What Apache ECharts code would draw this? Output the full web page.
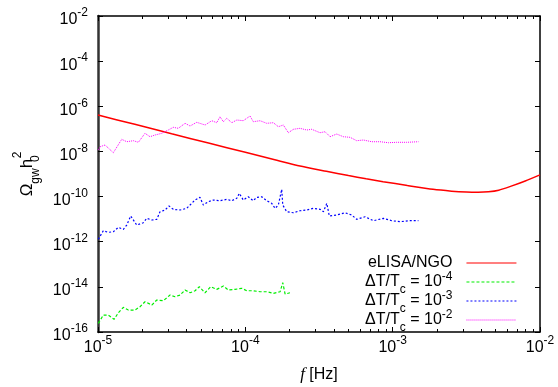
<!DOCTYPE html>
<html><head><meta charset="utf-8">
<script src="https://cdn.jsdelivr.net/npm/echarts@6/dist/echarts.min.js"></script>
<style>html,body{margin:0;padding:0;background:#fff}#c{width:558px;height:387px}</style>
</head><body><div id="c"></div>
<script>
// Tick labels (powers of ten)
const xMajorTicks = [1e-5, 1e-4, 1e-3, 1e-2];
const yMajorTicks = [1e-16, 1e-14, 1e-12, 1e-10, 1e-8, 1e-6, 1e-4, 1e-2];
const seriesNames = ['eLISA/NGO', 'ΔT/Tc = 10^-4', 'ΔT/Tc = 10^-3', 'ΔT/Tc = 10^-2'];

// Values, stored as log10(f [Hz]) and log10(Omega h^2)
const elisaLogF = [-5.0,-4.75,-4.5,-4.25,-4.0,-3.8,-3.629,-3.45,-3.3,-3.18,-3.065,-2.9,-2.726,-2.6,-2.5,-2.42,-2.35,-2.28,-2.2,-2.1,-2.0];
const elisaLogOmega = [-6.39,-6.80,-7.22,-7.63,-8.04,-8.37,-8.65,-8.88,-9.07,-9.21,-9.34,-9.51,-9.68,-9.76,-9.80,-9.81,-9.79,-9.72,-9.55,-9.31,-9.04];

const dT4LogF = [-4.998,-4.964,-4.930,-4.891,-4.862,-4.828,-4.794,-4.749,-4.715,-4.681,-4.635,-4.601,-4.557,-4.511,-4.477,-4.443,-4.409,-4.375,-4.341,-4.312,-4.274,-4.235,-4.194,-4.149,-4.115,-4.070,-4.024,-3.990,-3.946,-3.900,-3.855,-3.810,-3.764,-3.746,-3.730,-3.697];
const dT4LogOmega = [-15.617,-15.249,-15.249,-15.439,-15.147,-14.908,-15.027,-15.027,-14.881,-14.659,-14.806,-14.584,-14.615,-14.362,-14.438,-14.362,-14.141,-14.261,-14.172,-13.995,-14.261,-13.995,-14.110,-13.964,-14.141,-14.110,-14.066,-14.172,-14.172,-14.216,-14.216,-14.287,-14.216,-13.817,-14.318,-14.261];

const dT3LogF = [-4.998,-4.964,-4.930,-4.896,-4.862,-4.828,-4.805,-4.778,-4.737,-4.692,-4.669,-4.635,-4.601,-4.579,-4.545,-4.518,-4.489,-4.443,-4.398,-4.364,-4.341,-4.308,-4.285,-4.251,-4.217,-4.172,-4.126,-4.092,-4.058,-4.041,-4.014,-3.980,-3.946,-3.923,-3.889,-3.855,-3.821,-3.798,-3.776,-3.753,-3.746,-3.719,-3.674,-3.629,-3.583,-3.538,-3.493,-3.470,-3.447,-3.430,-3.380,-3.323,-3.278,-3.244,-3.187,-3.131,-3.063,-3.006,-2.950,-2.893,-2.825];
const dT3LogOmega = [-11.894,-11.513,-11.584,-11.558,-11.363,-11.451,-11.261,-10.862,-11.261,-11.159,-10.964,-11.039,-11.008,-10.671,-10.596,-10.419,-10.565,-10.596,-10.521,-10.299,-10.153,-10.033,-10.375,-10.228,-10.153,-10.184,-10.122,-10.184,-10.078,-9.856,-10.153,-10.007,-10.184,-10.033,-10.007,-10.184,-10.299,-10.521,-10.375,-9.679,-10.375,-10.671,-10.716,-10.627,-10.596,-10.521,-10.565,-10.671,-10.299,-10.862,-10.818,-10.716,-10.818,-11.008,-10.893,-11.070,-10.964,-11.070,-11.115,-11.070,-11.070];

const dT2LogF = [-4.998,-4.986,-4.952,-4.896,-4.839,-4.805,-4.760,-4.726,-4.681,-4.647,-4.613,-4.568,-4.523,-4.489,-4.455,-4.409,-4.375,-4.330,-4.273,-4.228,-4.194,-4.172,-4.149,-4.126,-4.092,-4.058,-4.014,-3.968,-3.946,-3.900,-3.855,-3.810,-3.776,-3.742,-3.708,-3.674,-3.629,-3.583,-3.549,-3.493,-3.459,-3.425,-3.380,-3.335,-3.289,-3.244,-3.199,-3.142,-3.086,-3.029,-2.972,-2.904,-2.825];
const dT2LogOmega = [-7.94,-7.791,-7.716,-8.057,-7.463,-7.570,-7.525,-7.596,-7.198,-7.348,-7.273,-7.198,-7.051,-6.932,-6.976,-6.754,-6.874,-6.710,-6.830,-6.639,-6.728,-6.462,-6.684,-6.533,-6.728,-6.608,-6.639,-6.431,-6.684,-6.639,-6.754,-6.728,-6.905,-6.830,-7.171,-7.020,-6.976,-7.051,-7.020,-7.171,-7.127,-7.348,-7.229,-7.348,-7.375,-7.525,-7.494,-7.570,-7.570,-7.614,-7.596,-7.596,-7.570];

function toPairs(lf, lo) { return lf.map((v, i) => [Math.pow(10, v), Math.pow(10, lo[i])]); }

const FONT = '"Liberation Sans", Helvetica, Arial, sans-serif';
const minorXTicks = [];
for (const dec of [1e-5, 1e-4, 1e-3]) for (let k = 2; k <= 9; k++) minorXTicks.push(k * dec);

const tickRich = {
  b: { fontFamily: FONT, fontSize: 16, lineHeight: 16, color: '#000', padding: [8, 0, 0, 0] },
  s: { fontFamily: FONT, fontSize: 12, lineHeight: 12, color: '#000', padding: [3, 0, 9, 0] }
};
function powLabel(v) { const e = Math.round(Math.log10(v)); return '{b|10}{s|' + e + '}'; }

const legendRich = {
  n: { fontFamily: FONT, fontSize: 16, lineHeight: 16, color: '#000', padding: [6, 0, 6, 0] },
  sub: { fontFamily: FONT, fontSize: 12, lineHeight: 12, color: '#000', padding: [16, 0, 0, 0] },
  sup: { fontFamily: FONT, fontSize: 12, lineHeight: 12, color: '#000', padding: [3, 0, 13, 0] }
};

const lineStyles = [
  { color: '#ff0000', width: 1.5, type: 'solid' },
  { color: '#00ee00', width: 1.2, type: [3, 2] },
  { color: '#0000ff', width: 1.2, type: [2, 2] },
  { color: '#ff00ff', width: 1, type: [1, 1] }
];

const blackLine = { show: true, lineStyle: { color: '#000', width: 1.5 } };
const noLine = { show: false };
function tickAxisX(pos, vals, len, grid, line) {
  return { type: 'log', logBase: 10, min: 1e-5, max: 1e-2, gridIndex: grid, position: pos,
    axisLine: line, splitLine: { show: false },
    axisTick: { show: true, inside: true, length: len, customValues: vals, lineStyle: { color: '#000', width: 1 } },
    axisLabel: { show: false } };
}

const xMain = tickAxisX('bottom', xMajorTicks, 5, 0, blackLine);
xMain.axisLabel = { show: true, customValues: xMajorTicks, formatter: powLabel, rich: tickRich, margin: 4, color: '#000' };
xMain.name = '{f|f}{t| [Hz]}';
xMain.nameLocation = 'middle';
xMain.nameGap = 34;
xMain.nameTextStyle = { rich: {
  f: { fontFamily: '"Liberation Serif", "Times New Roman", serif', fontStyle: 'italic', fontSize: 17, color: '#000' },
  t: { fontFamily: FONT, fontSize: 16, color: '#000' } } };

const option = {
  animation: false,
  backgroundColor: '#fff',
  grid: [
    { left: 98, top: 16, right: 18, bottom: 55, containLabel: false, outerBoundsMode: 'none' },
    { left: 98, top: 16, right: 18, bottom: 55, containLabel: false, outerBoundsMode: 'none' }
  ],
  xAxis: [
    xMain,
    tickAxisX('top', xMajorTicks, 5, 0, blackLine),
    tickAxisX('bottom', minorXTicks, 3, 1, noLine),
    tickAxisX('top', minorXTicks, 3, 1, noLine)
  ],
  yAxis: [
    { type: 'log', logBase: 10, min: 1e-16, max: 1e-2, gridIndex: 0, position: 'left',
      axisLine: { show: true, lineStyle: { color: '#333', width: 2.5 } }, splitLine: { show: false },
      axisTick: { show: true, inside: true, length: 5, customValues: yMajorTicks, lineStyle: { color: '#000', width: 1 } },
      axisLabel: { show: true, customValues: yMajorTicks, formatter: powLabel, rich: tickRich, margin: 10, color: '#000' },
      name: '{O|Ω}{g|gw}{h|h}{z|0}{t|2}', nameLocation: 'middle', nameRotate: 90, nameGap: 61,
      nameTextStyle: { rich: {
        O: { fontFamily: FONT, fontSize: 17, lineHeight: 17, color: '#000', padding: [7, 0, 6, 0] },
        h: { fontFamily: FONT, fontSize: 17, lineHeight: 17, color: '#000', padding: [7, 0, 6, 0] },
        g: { fontFamily: FONT, fontSize: 12, lineHeight: 12, color: '#000', padding: [18, 0, 0, 0] },
        z: { fontFamily: FONT, fontSize: 12, lineHeight: 12, color: '#000', padding: [18, 0, 0, 0], width: 0.5 },
        t: { fontFamily: FONT, fontSize: 12, lineHeight: 12, color: '#000', padding: [0, 0, 18, 0] } } } },
    { type: 'log', logBase: 10, min: 1e-16, max: 1e-2, gridIndex: 0, position: 'right',
      axisLine: blackLine, splitLine: { show: false },
      axisTick: { show: true, inside: true, length: 5, customValues: yMajorTicks, lineStyle: { color: '#000', width: 1 } },
      axisLabel: { show: false } },
    { type: 'log', logBase: 10, min: 1e-16, max: 1e-2, gridIndex: 1, show: false }
  ],
  legend: {
    data: seriesNames.map((n, i) => ({ name: n, lineStyle: { color: lineStyles[i].color, width: 1.1, type: lineStyles[i].type } })),
    orient: 'vertical', align: 'right', right: 41, top: 249, padding: 0,
    itemWidth: 50, itemHeight: 14, itemGap: -9, selectedMode: false,
    itemStyle: { opacity: 0 },
    textStyle: { fontFamily: FONT, fontSize: 16, color: '#000', padding: [0, 9, 0, 0], rich: legendRich },
    formatter: function (name) {
      if (name === 'eLISA/NGO') return '{n|eLISA/NGO}';
      const e = name.split('10^')[1];
      return '{n|ΔT/T}{sub|c}{n| = 10}{sup|' + e + '}';
    }
  },
  series: seriesNames.map((n, i) => ({
    name: n, type: 'line', symbol: 'none', smooth: i === 0 ? 0.2 : false,
    data: [toPairs(elisaLogF, elisaLogOmega), toPairs(dT4LogF, dT4LogOmega), toPairs(dT3LogF, dT3LogOmega), toPairs(dT2LogF, dT2LogOmega)][i],
    lineStyle: lineStyles[i], itemStyle: { color: lineStyles[i].color }
  }))
};
const chart = echarts.init(document.getElementById('c'), null, { renderer: 'canvas' });
chart.setOption(option);
</script>
</body></html>
